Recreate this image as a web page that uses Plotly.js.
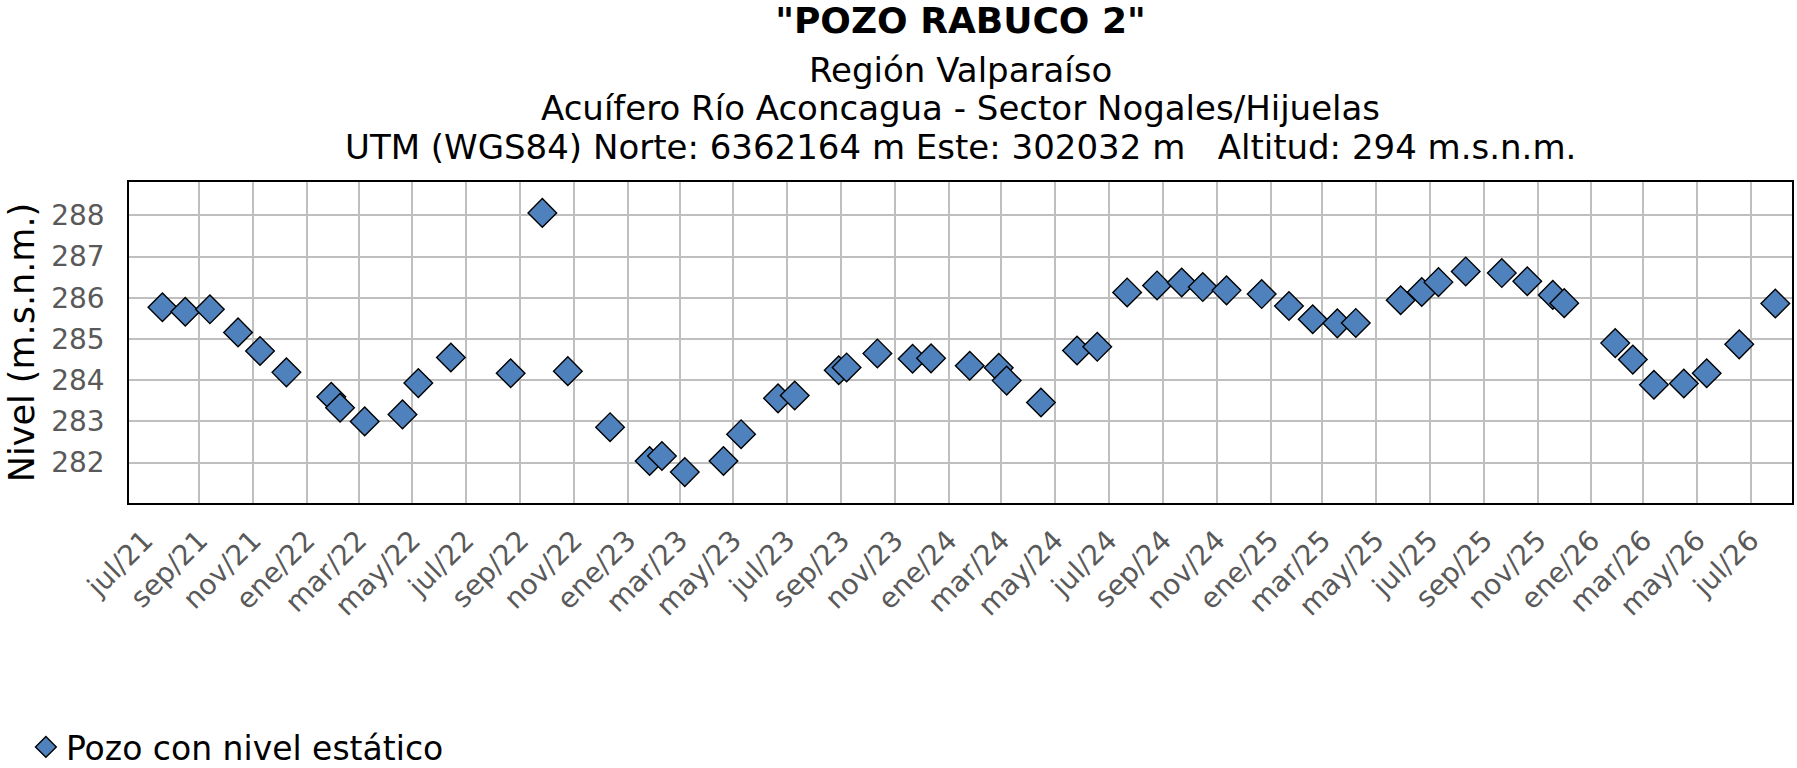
<!DOCTYPE html>
<html>
<head>
<meta charset="utf-8">
<script src="https://cdn.plot.ly/plotly-3.0.1.min.js"></script>
<style>
  html, body { margin: 0; padding: 0; background: #fff; }
  #chart { width: 1797px; height: 768px; }
</style>
</head>
<body>
<div id="chart"></div>
<script>
// Pozo Rabuco 2 — static level readings (m.s.n.m.)
const fechas = [
  '2021-07-21', '2021-08-16', '2021-09-13', '2021-10-15', '2021-11-09', '2021-12-09',
  '2022-01-29', '2022-02-08', '2022-03-08', '2022-04-20', '2022-05-08', '2022-06-14',
  '2022-08-21', '2022-09-26', '2022-10-25', '2022-12-12', '2023-01-26', '2023-02-09',
  '2023-03-07', '2023-04-20', '2023-05-10', '2023-06-21', '2023-07-10', '2023-08-29',
  '2023-09-07', '2023-10-12', '2023-11-21', '2023-12-12', '2024-01-25', '2024-02-27',
  '2024-03-07', '2024-04-15', '2024-05-26', '2024-06-18', '2024-07-22', '2024-08-25',
  '2024-09-22', '2024-10-16', '2024-11-12', '2024-12-22', '2025-01-22', '2025-02-18',
  '2025-03-18', '2025-04-08', '2025-05-29', '2025-06-22', '2025-07-11', '2025-08-11',
  '2025-09-21', '2025-10-20', '2025-11-18', '2025-12-01', '2026-01-28', '2026-02-17',
  '2026-03-13', '2026-04-16', '2026-05-12', '2026-06-18', '2026-07-29'
];
const niveles = [
  285.77, 285.66, 285.72, 285.16, 284.71, 284.19,
  283.60, 283.33, 283.00, 283.17, 283.93, 284.55,
  284.17, 288.06, 284.22, 282.86, 282.04, 282.16,
  281.77, 282.04, 282.69, 283.56, 283.63, 284.24,
  284.31, 284.65, 284.52, 284.53, 284.35, 284.30,
  283.99, 283.46, 284.72, 284.81, 286.13, 286.30,
  286.37, 286.26, 286.18, 286.09, 285.80, 285.48,
  285.38, 285.39, 285.94, 286.14, 286.38, 286.64,
  286.60, 286.40, 286.07, 285.87, 284.90, 284.50,
  283.89, 283.92, 284.17, 284.87, 285.86
];

const tickFechas = [
  '2021-07-01', '2021-09-01', '2021-11-01',
  '2022-01-01', '2022-03-01', '2022-05-01', '2022-07-01', '2022-09-01', '2022-11-01',
  '2023-01-01', '2023-03-01', '2023-05-01', '2023-07-01', '2023-09-01', '2023-11-01',
  '2024-01-01', '2024-03-01', '2024-05-01', '2024-07-01', '2024-09-01', '2024-11-01',
  '2025-01-01', '2025-03-01', '2025-05-01', '2025-07-01', '2025-09-01', '2025-11-01',
  '2026-01-01', '2026-03-01', '2026-05-01', '2026-07-01'
];
const tickTextos = [
  'jul/21', 'sep/21', 'nov/21',
  'ene/22', 'mar/22', 'may/22', 'jul/22', 'sep/22', 'nov/22',
  'ene/23', 'mar/23', 'may/23', 'jul/23', 'sep/23', 'nov/23',
  'ene/24', 'mar/24', 'may/24', 'jul/24', 'sep/24', 'nov/24',
  'ene/25', 'mar/25', 'may/25', 'jul/25', 'sep/25', 'nov/25',
  'ene/26', 'mar/26', 'may/26', 'jul/26'
];
// the source chart draws no vertical gridline at the first label
const gridFechas = tickFechas.slice(1);

const titulo = '"POZO RABUCO 2"';
const subtitulos = [
  'Región Valparaíso',
  'Acuífero Río Aconcagua - Sector Nogales/Hijuelas',
  'UTM (WGS84) Norte: 6362164 m Este: 302032 m   Altitud: 294 m.s.n.m.'
];
const nombreSerie = 'Pozo con nivel estático';

const FONT = 'Verdana, "DejaVu Sans", sans-serif';
const GRID = '#bfbfbf';
const TICK = '#595959';
const xRange = ['2021-06-13', '2026-08-17'];
const yRange = [281.02, 288.81];

const subY = [1.348, 1.231, 1.110];

const traces = [
  {
    type: 'scatter',
    mode: 'markers',
    x: fechas,
    y: niveles,
    name: nombreSerie,
    marker: {
      symbol: 'diamond',
      size: 22,
      color: '#4f81bd',
      line: { color: '#000', width: 1.4 }
    },
    hoverinfo: 'x+y'
  },
  // empty trace so the grid-only overlay axis gets a subplot
  { type: 'scatter', mode: 'markers', x: [], y: [], xaxis: 'x2', yaxis: 'y',
    showlegend: false, hoverinfo: 'skip' }
];

const layout = {
  width: 1797,
  height: 768,
  paper_bgcolor: '#fff',
  plot_bgcolor: '#fff',
  font: { family: FONT, color: '#000' },
  margin: { l: 129, r: 5, t: 182, b: 265, autoexpand: false },
  title: {
    text: '<b>' + titulo + '</b>',
    font: { family: FONT, size: 36, color: '#000' },
    x: 0.5, xref: 'paper',
    y: 0.974, yref: 'container', yanchor: 'middle'
  },
  annotations: subtitulos.map((t, i) => ({
    text: t,
    xref: 'paper', yref: 'paper',
    x: 0.5, y: subY[i],
    xanchor: 'center', yanchor: 'middle',
    showarrow: false,
    font: { family: FONT, size: 34, color: '#000' }
  })),
  xaxis: {
    type: 'date',
    range: xRange,
    tickmode: 'array',
    tickvals: tickFechas,
    ticktext: tickTextos,
    tickangle: -45,
    ticks: '',
    ticklabelstandoff: 8,
    tickfont: { family: FONT, size: 28, color: TICK },
    showgrid: false,
    zeroline: false,
    showline: true,
    linecolor: '#000',
    linewidth: 1.5,
    mirror: true
  },
  xaxis2: {
    type: 'date',
    overlaying: 'x',
    anchor: 'y',
    range: xRange,
    tickmode: 'array',
    tickvals: gridFechas,
    showticklabels: false,
    ticks: '',
    showgrid: true,
    gridcolor: GRID,
    gridwidth: 1.5,
    showline: false,
    zeroline: false
  },
  yaxis: {
    range: yRange,
    dtick: 1,
    tick0: 282,
    ticks: '',
    ticklabelstandoff: 17,
    tickfont: { family: FONT, size: 28, color: TICK },
    showgrid: true,
    gridcolor: GRID,
    gridwidth: 1.5,
    zeroline: false,
    showline: true,
    linecolor: '#000',
    linewidth: 1.5,
    mirror: true,
    title: {
      text: 'Nivel (m.s.n.m.)',
      font: { family: FONT, size: 35, color: '#000' },
      standoff: 6
    }
  },
  showlegend: true,
  legend: {
    x: -0.062, xanchor: 'left',
    y: -0.760, yanchor: 'middle',
    font: { family: FONT, size: 33, color: '#000' },
    bgcolor: 'rgba(0,0,0,0)'
  },
  hovermode: 'closest'
};

Plotly.newPlot('chart', traces, layout, { displayModeBar: false, responsive: false });
</script>
</body>
</html>
